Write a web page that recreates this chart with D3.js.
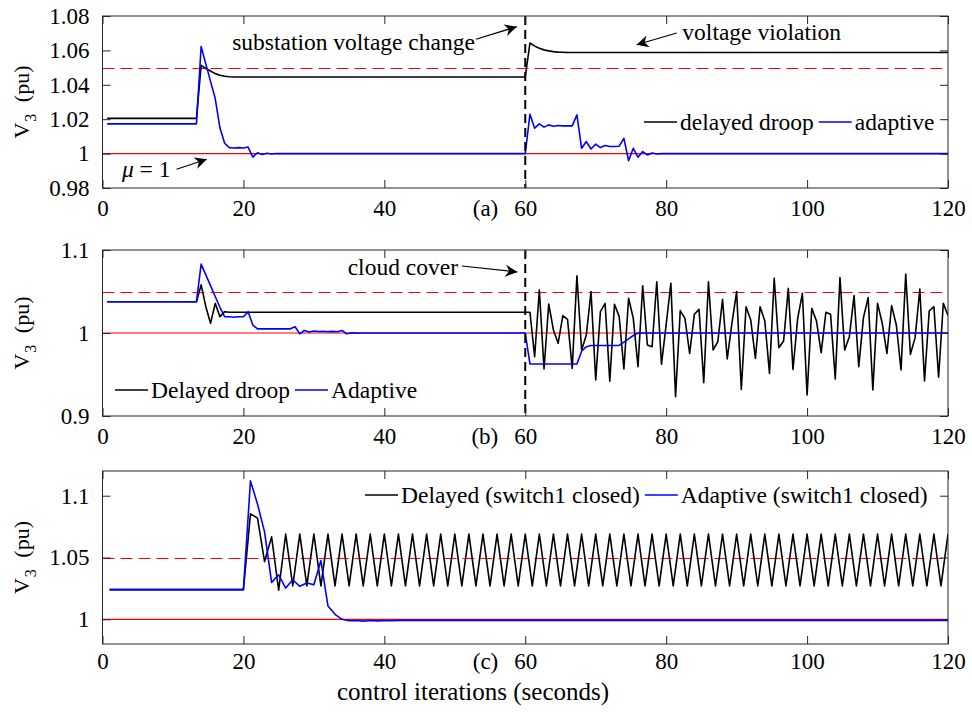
<!DOCTYPE html>
<html>
<head>
<meta charset="utf-8">
<script src="https://cdn.jsdelivr.net/npm/d3@7/dist/d3.min.js"></script>
<style>
  body { margin: 0; background: #fff; }
  text { font-family: "Liberation Serif", "Times New Roman", serif; fill: #000; }
</style>
</head>
<body>
<svg id="chart" width="972" height="712"></svg>
<script>
// ---- data ----
const xTicks = [0, 20, 40, 60, 80, 100, 120];
const aYTicks = [0.98, 1, 1.02, 1.04, 1.06, 1.08];
const bYTicks = [0.9, 1, 1.1];
const cYTicks = [1, 1.05, 1.1];
const nominal = 1;      // solid red line
const upperLimit = 1.05; // dashed red line
const eventTime = 60;    // substation change / cloud cover

// (a) and (b) are sampled every 2/3 s, (c) every 1 s
const stepAB = 2 / 3;
const stepC = 1;

// runs of consecutive samples: [first sample index, [values...]]
const aDelayed = [
  [1, [1.0205]],
  [20, [1.0205, 1.0513, 1.0495, 1.048, 1.0465, 1.0456, 1.045, 1.0447, 1.0445]],
  [90, [1.0445, 1.0643, 1.0625, 1.0612, 1.0603, 1.0597, 1.0593, 1.059, 1.0589, 1.0588]],
  [180, [1.0588]]
];
const aAdaptive = [
  [1, [1.0173]],
  [20, [1.0173, 1.0623, 1.052, 1.042, 1.032, 1.015, 1.006, 1.0035, 1.0033, 1.0035,
        1.0033, 1.0038, 0.998, 1.0005, 0.9995, 1.0002, 0.9998, 1.0001, 1.0]],
  [90, [1.0, 1.0229, 1.0148, 1.0173, 1.0154, 1.0167, 1.0159, 1.0163, 1.0161, 1.0161,
        1.0161, 1.0225, 1.0031, 1.007, 1.0027, 1.0055, 1.0035, 1.0047, 1.0041, 1.0041,
        1.0043, 1.0089, 0.9959, 1.0031, 0.9979, 1.0012, 0.9992, 1.0004, 0.9998, 1.0]],
  [180, [1.0]]
];

const bDelayed = [
  [1, [1.0377]],
  [20, [1.0377, 1.058, 1.0317, 1.0117, 1.0357, 1.0197, 1.0257, 1.025]],
  [90, [1.025, 1.025, 0.9715, 1.0518, 0.9566, 1.035, 1.0036, 0.9876, 1.021, 1.0165,
        0.9574, 1.069, 0.9795, 0.9976, 1.0498, 0.9434, 1.0257, 1.0357, 0.942, 1.0346,
        1.0197, 0.9566, 1.0418, 1.0177, 0.9594, 1.057, 0.9855, 0.9835, 1.0618, 0.9623,
        1.01, 1.0598, 0.9233, 1.0269, 1.0177, 0.9755, 1.0225, 1.0285, 0.9402, 1.0618,
        0.9795, 0.9896, 1.0406, 0.9687, 1.0117, 1.0498, 0.9321, 1.0317, 1.0157, 0.9695,
        1.0317, 1.0145, 0.9514, 1.0659, 0.9823, 0.9904, 1.0538, 0.9562, 1.0177, 1.0478,
        0.9253, 1.0297, 1.0145, 0.9763, 1.0249, 1.0225, 0.9446, 1.0667, 0.9795, 0.9956,
        1.045, 0.9594, 1.0185, 1.0426, 0.9313, 1.0357, 1.0117, 0.9755, 1.033, 1.0096,
        0.9554, 1.0711, 0.9743, 0.9944, 1.053, 0.9422, 1.0265, 1.0317, 0.9466, 1.0357,
        1.021]]
];
const bAdaptive = [
  [1, [1.0377]],
  [20, [1.0377, 1.083, 1.070, 1.057, 1.044, 1.031, 1.0197, 1.0195, 1.019, 1.0195,
        1.0195, 1.0257, 1.0096, 1.005]],
  [40, [1.005, 1.0076, 0.999, 1.003, 1.0012, 1.0024, 1.0018, 1.0022, 1.0016, 1.002,
        1.0015, 1.003, 0.999, 1.0003, 0.9998, 1.0]],
  [90, [1.0, 0.9627]],
  [101, [0.9627, 0.978, 0.9835, 0.985]],
  [110, [0.985, 0.989, 0.993, 0.997, 1.0]],
  [180, [1.0]]
];

const cDelayed = [
  [1, [1.024]],
  [20, [1.024, 1.0853, 1.0819, 1.0467, 1.0667, 1.0235,
        1.069, 1.027, 1.069, 1.027, 1.069, 1.027, 1.069, 1.027, 1.069, 1.027,
        1.069, 1.027, 1.069, 1.027, 1.069, 1.027, 1.069, 1.027, 1.069, 1.027,
        1.069, 1.027, 1.069, 1.027, 1.069, 1.027, 1.069, 1.027, 1.069, 1.027,
        1.069, 1.027, 1.069, 1.027, 1.069, 1.027, 1.069, 1.027, 1.069, 1.027,
        1.069, 1.027, 1.069, 1.027, 1.069, 1.027, 1.069, 1.027, 1.069, 1.027,
        1.069, 1.027, 1.069, 1.027, 1.069, 1.027, 1.069, 1.027, 1.069, 1.027,
        1.069, 1.027, 1.069, 1.027, 1.069, 1.027, 1.069, 1.027, 1.069, 1.027,
        1.069, 1.027, 1.069, 1.027, 1.069, 1.027, 1.069, 1.027, 1.069, 1.027,
        1.069, 1.027, 1.069, 1.027, 1.069, 1.027, 1.069, 1.027, 1.069, 1.027,
        1.069, 1.027, 1.069, 1.027, 1.069]]
];
const cAdaptive = [
  [1, [1.024]],
  [20, [1.024, 1.112, 1.0933, 1.0707, 1.0299, 1.036, 1.0253, 1.032, 1.0267, 1.0293,
        1.028, 1.0475, 1.0107, 1.004, 1.0, 0.9988, 0.999, 0.9985, 0.999, 0.9987,
        0.999, 0.9988, 0.9991]],
  [120, [0.9991]]
];

// ---- layout ----
const fontTick = 23, fontText = 23.5, fontLabel = 25;
const svg = d3.select("#chart");

const x = d3.scaleLinear().domain([0, 120]).range([102.5, 948]);

const expand = (runs, step) =>
  runs.flatMap(([k0, vals]) => vals.map((v, i) => ({t: (k0 + i) * step, v})));

svg.append("defs").append("marker")
  .attr("id", "head")
  .attr("viewBox", "0 0 10 10")
  .attr("refX", 10).attr("refY", 5)
  .attr("markerWidth", 12).attr("markerHeight", 12)
  .attr("markerUnits", "userSpaceOnUse")
  .attr("orient", "auto")
  .append("path").attr("d", "M0,0 L10,5 L0,10 L3,5 Z").attr("fill", "#000");

const panels = [
  {
    tag: "(a)", top: 16, bottom: 188, yDomain: [0.98, 1.08], yTicks: aYTicks, step: stepAB,
    series: [{runs: aDelayed, color: "#000", name: "delayed droop"},
             {runs: aAdaptive, color: "#0000ff", name: "adaptive"}],
    eventLine: true,
    legend: {x: 644, y: 122},
    notes: [
      {text: "substation voltage change", t: 18.4, v: 1.0605, from: [53, 1.0665], to: [58.8, 1.0738]},
      {text: "voltage violation", t: 82.3, v: 1.0662, from: [81.5, 1.0701], to: [75.8, 1.0633]},
      {mu: true, t: 2.75, v: 0.9866, from: [10.5, 0.9909], to: [14.8, 0.9967]}
    ]
  },
  {
    tag: "(b)", top: 250, bottom: 416, yDomain: [0.9, 1.1], yTicks: bYTicks, step: stepAB,
    series: [{runs: bDelayed, color: "#000", name: "Delayed droop"},
             {runs: bAdaptive, color: "#0000ff", name: "Adaptive"}],
    eventLine: true,
    legend: {x: 115, y: 390},
    notes: [
      {text: "cloud cover", t: 34.8, v: 1.0699, from: [51, 1.0807], to: [58.9, 1.0735]}
    ]
  },
  {
    tag: "(c)", top: 471, bottom: 644, yDomain: [0.98, 1.12], yTicks: cYTicks, step: stepC,
    series: [{runs: cDelayed, color: "#000", name: "Delayed (switch1 closed)"},
             {runs: cAdaptive, color: "#0000ff", name: "Adaptive (switch1 closed)"}],
    eventLine: false,
    legend: {x: 365, y: 495},
    notes: []
  }
];

panels.forEach((p, pi) => {
  const y = d3.scaleLinear().domain(p.yDomain).range([p.bottom, p.top]);
  const g = svg.append("g");
  const pad = pi === 2 ? 9 : 12;

  g.append("clipPath").attr("id", "clip" + pi)
    .append("rect").attr("x", x(0)).attr("y", p.top)
    .attr("width", x(120) - x(0)).attr("height", p.bottom - p.top);
  const plot = g.append("g").attr("clip-path", `url(#clip${pi})`);

  // reference lines
  plot.append("line")
    .attr("x1", x(0)).attr("x2", x(120))
    .attr("y1", y(nominal)).attr("y2", y(nominal))
    .attr("stroke", "#ff0000").attr("stroke-width", 1.2);
  plot.append("line")
    .attr("x1", x(0)).attr("x2", x(120))
    .attr("y1", Math.round(y(upperLimit)) + 0.5).attr("y2", Math.round(y(upperLimit)) + 0.5)
    .style("stroke", "#ff0000").attr("stroke-width", 1.2)
    .attr("stroke-dasharray", "12,6");

  const line = d3.line().x(d => x(d.t)).y(d => y(d.v));
  p.series.forEach(s => {
    plot.append("path")
      .datum(expand(s.runs, p.step))
      .attr("d", line)
      .attr("fill", "none")
      .attr("stroke", s.color)
      .attr("stroke-width", 1.6)
      .attr("stroke-linejoin", "round");
  });

  if (p.eventLine) {
    plot.append("line")
      .attr("x1", x(eventTime)).attr("x2", x(eventTime))
      .attr("y1", p.top).attr("y2", p.bottom)
      .attr("stroke", "#000").attr("stroke-width", 2)
      .attr("stroke-dasharray", "9,5");
  }

  // axes, MATLAB style: ticks inside on all four sides
  const axisStyle = sel => {
    sel.select(".domain").remove();
    sel.selectAll(".tick line").attr("stroke", "#262626");
    sel.selectAll("text").style("font-size", fontTick + "px")
      .style("font-family", "'Liberation Serif', serif").attr("fill", "#000");
  };
  g.append("g").attr("transform", `translate(0,${p.bottom})`)
    .call(d3.axisBottom(x).tickValues(xTicks).tickSize(-8).tickPadding(pad))
    .call(axisStyle);
  g.append("g").attr("transform", `translate(0,${p.top})`)
    .call(d3.axisTop(x).tickValues(xTicks).tickSize(-8).tickFormat(""))
    .call(axisStyle);
  g.append("g").attr("transform", `translate(${x(0)},0)`)
    .call(d3.axisLeft(y).tickValues(p.yTicks).tickSize(-8).tickPadding(13).tickFormat(d => String(d)))
    .call(axisStyle);
  g.append("g").attr("transform", `translate(${x(120)},0)`)
    .call(d3.axisRight(y).tickValues(p.yTicks).tickSize(-8).tickFormat(""))
    .call(axisStyle);

  g.append("rect")
    .attr("x", x(0)).attr("y", p.top)
    .attr("width", x(120) - x(0)).attr("height", p.bottom - p.top)
    .attr("fill", "none").attr("stroke", "#262626").attr("stroke-width", 1);

  // panel tag beside the 60 label
  g.append("text")
    .attr("x", x(eventTime) - 27).attr("y", p.bottom + pad)
    .attr("dy", "0.71em")
    .attr("text-anchor", "end")
    .style("font-size", fontTick + "px")
    .text(p.tag);

  // y label  V_3 (pu)
  const yl = g.append("text")
    .attr("transform", `translate(29,${(p.top + p.bottom) / 2}) rotate(-90)`)
    .attr("text-anchor", "middle")
    .style("font-size", "22px");
  yl.append("tspan").text("V");
  yl.append("tspan").attr("dy", 7).attr("dx", 1).style("font-size", "16px").text("3");
  yl.append("tspan").attr("dy", -7).attr("dx", 6).text(" (pu)");

  // legend (no box)
  let lx = p.legend.x;
  p.series.forEach(s => {
    g.append("line")
      .attr("x1", lx).attr("x2", lx + 33)
      .attr("y1", p.legend.y).attr("y2", p.legend.y)
      .attr("stroke", s.color).attr("stroke-width", 1.6);
    const t = g.append("text")
      .attr("x", lx + 36).attr("y", p.legend.y)
      .attr("dy", "0.35em")
      .style("font-size", fontText + "px")
      .text(s.name);
    lx += 36 + t.node().getComputedTextLength() + 5;
  });

  // annotations with arrows
  p.notes.forEach(n => {
    const t = g.append("text")
      .attr("x", x(n.t)).attr("y", y(n.v))
      .style("font-size", fontText + "px");
    if (n.mu) {
      t.append("tspan").style("font-style", "italic").text("\u03bc");
      t.append("tspan").text(" = 1");
    } else {
      t.text(n.text);
    }
    g.append("line")
      .attr("x1", x(n.from[0])).attr("y1", y(n.from[1]))
      .attr("x2", x(n.to[0])).attr("y2", y(n.to[1]))
      .attr("stroke", "#000").attr("stroke-width", 1.2)
      .attr("marker-end", "url(#head)");
  });
});

// x label under the last panel
svg.append("text")
  .attr("x", 473).attr("y", 700)
  .attr("text-anchor", "middle")
  .style("font-size", fontLabel + "px")
  .text("control iterations (seconds)");
</script>
</body>
</html>
